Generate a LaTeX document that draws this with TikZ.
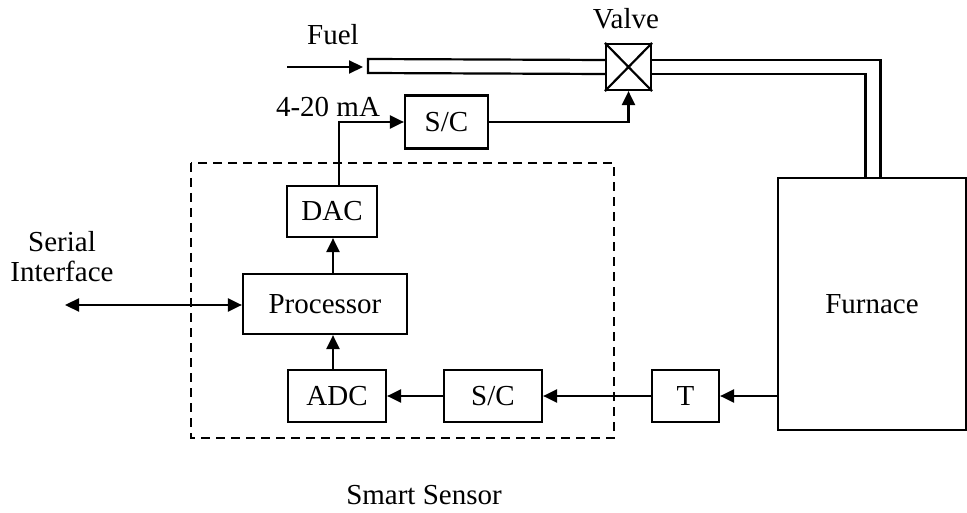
\documentclass[tikz,border=0pt]{standalone}
\usepackage{fontspec}
\setmainfont{Liberation Serif}
\usepackage{tikz}
\usetikzlibrary{arrows.meta, positioning, calc}

\begin{document}
\begin{tikzpicture}[
  x=1pt, y=-1pt,
  every node/.style={font=\fontsize{29}{33}\selectfont},
  blk/.style={rectangle, draw, line width=2.2pt, inner sep=0pt},
  arr/.style={-{Triangle[length=14pt,width=13pt]}, line width=2.2pt},
  link/.style={line width=2.2pt},
]
  \useasboundingbox (0,0) rectangle (967,513);
  % sensor chain
  \node[blk, minimum width=98pt, minimum height=52pt] (adc) at (337,396) {ADC};
  \node[blk, minimum width=98pt, minimum height=52pt] (sc2) at (493,396) {S/C};
  \node[blk, minimum width=67pt, minimum height=52pt] (t) at (685.5,396) {T};
  \node[blk, minimum width=164pt, minimum height=60pt] (proc) at (325,304) {Processor};
  \node[blk, minimum width=90pt, minimum height=51pt] (dac) at (332,211.5) {DAC};
  \node[blk, minimum width=83pt, minimum height=53pt] (sc1) at (446.5,122) {S/C};
  \node[blk, minimum width=45pt, minimum height=46pt] (valve) at (628.5,67) {};
  \node[blk, minimum width=188pt, minimum height=252pt] (furn) at (872,304) {Furnace};
  \draw[link] (valve.north west) -- (valve.south east)
              (valve.north east) -- (valve.south west);

  % labels
  \node (fuel) at (333,35) {Fuel};
  \node (vlbl) at (626,19) {Valve};
  \node (ma) at (328,107) {4-20 mA};
  \node[align=center, font=\fontsize{29}{30}\selectfont] (serial) at (62,257) {Serial\\Interface};
  \node (smart) at (424,495) {Smart Sensor};

  % fuel pipe
  \coordinate (pipe0) at (368,66);
  \coordinate (fuelin) at (287,67);
  \draw[link] ($(valve.west)+(0,7)$) -- ($(pipe0)+(0,7)$) -- ($(pipe0)+(0,-7)$)
    -- ($(valve.west)+(0,-7)$);
  \draw[link] ($(valve.east)+(0,-7)$) -| ($(furn.north)+(8.5,0)$);
  \draw[link] ($(valve.east)+(0,7)$) -| ($(furn.north)+(-6.5,0)$);
  \draw[arr] (fuelin) -- ($(pipe0)+(-5,1)$);

  % smart sensor boundary
  \draw[dashed, dash pattern=on 9pt off 6pt, line width=1.8pt] (191,163) rectangle (614,438);

  % signals
  \coordinate (ser) at (65,305);
  \draw[{Triangle[length=14pt,width=13pt]}-{Triangle[length=14pt,width=13pt]}, line width=2.2pt]
    (ser) -- (proc.west |- ser);
  \draw[arr] (t.east -| furn.west) -- (t.east);
  \draw[arr] (t.west) -- (sc2.east);
  \draw[arr] (sc2.west) -- (adc.east);
  \draw[arr] (adc.north -| 333,0) -- (proc.south -| 333,0);
  \draw[arr] (proc.north -| 333,0) -- (dac.south -| 333,0);
  \draw[arr] (dac.north -| 339,0) |- (sc1.west);
  \draw[arr] (sc1.east) -| (valve.south);
\end{tikzpicture}
\end{document}
